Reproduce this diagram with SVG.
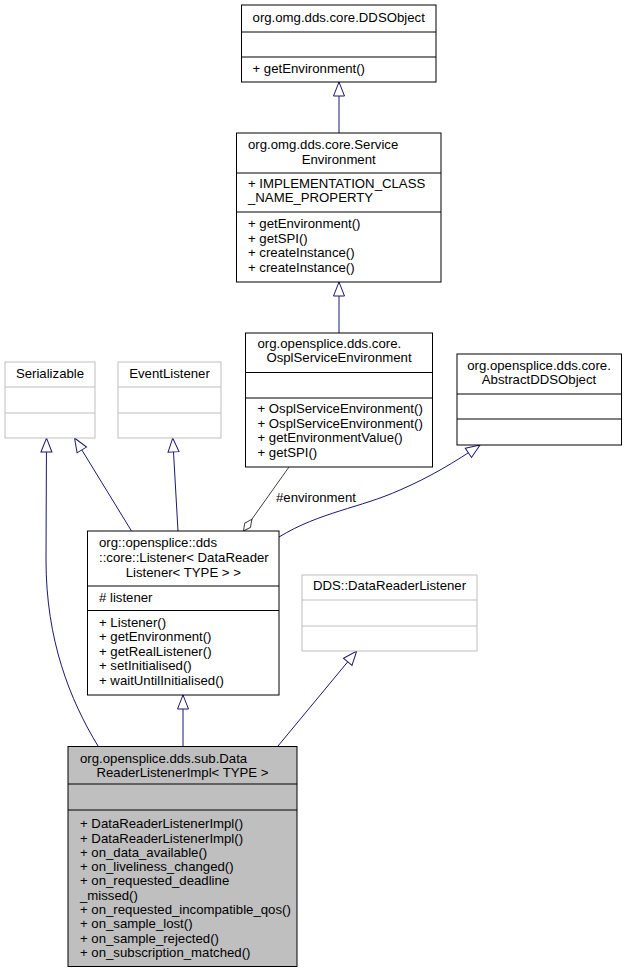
<svg xmlns="http://www.w3.org/2000/svg" width="627" height="975" viewBox="0 0 627 975">
<style>
text{font-family:"Liberation Sans",Arial,Helvetica,sans-serif;font-size:13.2px;fill:#000}
.c{text-anchor:middle}
.box{fill:#fff;stroke:#000;stroke-width:1}
.gbox{fill:#fff;stroke:#bfbfbf;stroke-width:1}
.main{fill:#bfbfbf;stroke:#000;stroke-width:1}
.sep{stroke:#000;stroke-width:1}
.gsep{stroke:#bfbfbf;stroke-width:1}
.edge{fill:none;stroke:#191970;stroke-width:1}
.agg{fill:none;stroke:#404040;stroke-width:1}
</style>
<defs>
<marker id="tri" viewBox="0 0 15 12" markerWidth="15" markerHeight="12" refX="14.5" refY="6" orient="auto" markerUnits="userSpaceOnUse" overflow="visible">
<path d="M0.5,0.5 L14.5,6 L0.5,11.5 Z" fill="#fff" stroke="#191970" stroke-width="1"/>
</marker>
<marker id="dia" viewBox="0 0 15 8" markerWidth="15" markerHeight="8" refX="0" refY="4" orient="auto" markerUnits="userSpaceOnUse" overflow="visible">
<path d="M0,4 L7,0.5 L14.5,4 L7,7.5 Z" fill="#fff" stroke="#404040" stroke-width="1"/>
</marker>
</defs>

<g id="connectors">
<path class="edge" d="M339,133 L339,82" marker-end="url(#tri)"/>
<path class="edge" d="M339,333 L339,282" marker-end="url(#tri)"/>
<path class="edge" d="M98,746 C70,700 46,640 46,560 L46.5,438" marker-end="url(#tri)"/>
<path class="edge" d="M131.5,531 L74.5,438" marker-end="url(#tri)"/>
<path class="edge" d="M178,531 L172.7,438" marker-end="url(#tri)"/>
<path class="edge" d="M279,537 C320,512 360,508 400,490 C430,477 455,462 480,445" marker-end="url(#tri)"/>
<path class="edge" d="M278,746 L356.7,651" marker-end="url(#tri)"/>
<path class="edge" d="M183,746 L183,695" marker-end="url(#tri)"/>
<path class="agg" d="M243.5,531 L289,467" marker-start="url(#dia)"/>
<text x="276" y="502">#environment</text>
</g>

<g id="DDSObject">
<rect class="box" x="241.5" y="5" width="194.5" height="77"/>
<line class="sep" x1="241.5" y1="32" x2="436" y2="32"/>
<line class="sep" x1="241.5" y1="57" x2="436" y2="57"/>
<text class="c" x="338.7" y="21.7">org.omg.dds.core.DDSObject</text>
<text x="252.5" y="72.7">+ getEnvironment()</text>
</g>

<g id="ServiceEnvironment">
<rect class="box" x="236.5" y="133" width="204.5" height="149"/>
<line class="sep" x1="236.5" y1="173" x2="441" y2="173"/>
<line class="sep" x1="236.5" y1="212" x2="441" y2="212"/>
<text x="248" y="149">org.omg.dds.core.Service</text>
<text class="c" x="338.7" y="163.5">Environment</text>
<text x="248" y="188.3">+ IMPLEMENTATION_CLASS</text>
<text x="248" y="202.3">_NAME_PROPERTY</text>
<text x="248" y="228">+ getEnvironment()</text>
<text x="248" y="242.5">+ getSPI()</text>
<text x="248" y="257">+ createInstance()</text>
<text x="248" y="271.5">+ createInstance()</text>
</g>

<g id="OsplServiceEnvironment">
<rect class="box" x="245.5" y="333" width="187" height="134"/>
<line class="sep" x1="245.5" y1="372.5" x2="432.5" y2="372.5"/>
<line class="sep" x1="245.5" y1="398" x2="432.5" y2="398"/>
<text x="257.5" y="348">org.opensplice.dds.core.</text>
<text class="c" x="339" y="362">OsplServiceEnvironment</text>
<text x="257.5" y="413">+ OsplServiceEnvironment()</text>
<text x="257.5" y="427.5">+ OsplServiceEnvironment()</text>
<text x="257.5" y="442">+ getEnvironmentValue()</text>
<text x="257.5" y="456.5">+ getSPI()</text>
</g>

<g id="Serializable">
<rect class="gbox" x="5" y="362" width="90" height="76"/>
<line class="gsep" x1="5" y1="387" x2="95" y2="387"/>
<line class="gsep" x1="5" y1="413" x2="95" y2="413"/>
<text class="c" x="50" y="377.5">Serializable</text>
</g>

<g id="EventListener">
<rect class="gbox" x="118" y="362" width="103" height="76"/>
<line class="gsep" x1="118" y1="387" x2="221" y2="387"/>
<line class="gsep" x1="118" y1="413" x2="221" y2="413"/>
<text class="c" x="169.5" y="377.5">EventListener</text>
</g>

<g id="AbstractDDSObject">
<rect class="box" x="457" y="354" width="164.5" height="91"/>
<line class="sep" x1="457" y1="394" x2="621.5" y2="394"/>
<line class="sep" x1="457" y1="419" x2="621.5" y2="419"/>
<text class="c" x="539" y="370">org.opensplice.dds.core.</text>
<text class="c" x="539" y="384">AbstractDDSObject</text>
</g>

<g id="Listener">
<rect class="box" x="87.5" y="531" width="191.5" height="164"/>
<line class="sep" x1="87.5" y1="586" x2="279" y2="586"/>
<line class="sep" x1="87.5" y1="610.5" x2="279" y2="610.5"/>
<text x="99" y="546.5">org::opensplice::dds</text>
<text x="99" y="561.5">::core::Listener&lt; DataReader</text>
<text class="c" x="183.3" y="576.5">Listener&lt; TYPE &gt; &gt;</text>
<text x="99" y="601.5"># listener</text>
<text x="99" y="626.5">+ Listener()</text>
<text x="99" y="641">+ getEnvironment()</text>
<text x="99" y="655.5">+ getRealListener()</text>
<text x="99" y="670">+ setInitialised()</text>
<text x="99" y="684.5">+ waitUntilInitialised()</text>
</g>

<g id="DataReaderListener">
<rect class="gbox" x="302" y="575" width="175" height="76"/>
<line class="gsep" x1="302" y1="600" x2="477" y2="600"/>
<line class="gsep" x1="302" y1="626" x2="477" y2="626"/>
<text class="c" x="389.5" y="590">DDS::DataReaderListener</text>
</g>

<g id="DataReaderListenerImpl">
<rect class="main" x="68" y="746.5" width="229" height="220"/>
<line class="sep" x1="68" y1="784" x2="297" y2="784"/>
<line class="sep" x1="68" y1="810" x2="297" y2="810"/>
<text x="80" y="762.5">org.opensplice.dds.sub.Data</text>
<text class="c" x="182.5" y="776.5">ReaderListenerImpl&lt; TYPE &gt;</text>
<text x="80" y="828.3">+ DataReaderListenerImpl()</text>
<text x="80" y="842.6">+ DataReaderListenerImpl()</text>
<text x="80" y="856.8">+ on_data_available()</text>
<text x="80" y="871.1">+ on_liveliness_changed()</text>
<text x="80" y="885.4">+ on_requested_deadline</text>
<text x="80" y="899.7">_missed()</text>
<text x="80" y="913.9">+ on_requested_incompatible_qos()</text>
<text x="80" y="928.2">+ on_sample_lost()</text>
<text x="80" y="942.5">+ on_sample_rejected()</text>
<text x="80" y="956.7">+ on_subscription_matched()</text>
</g>
</svg>
